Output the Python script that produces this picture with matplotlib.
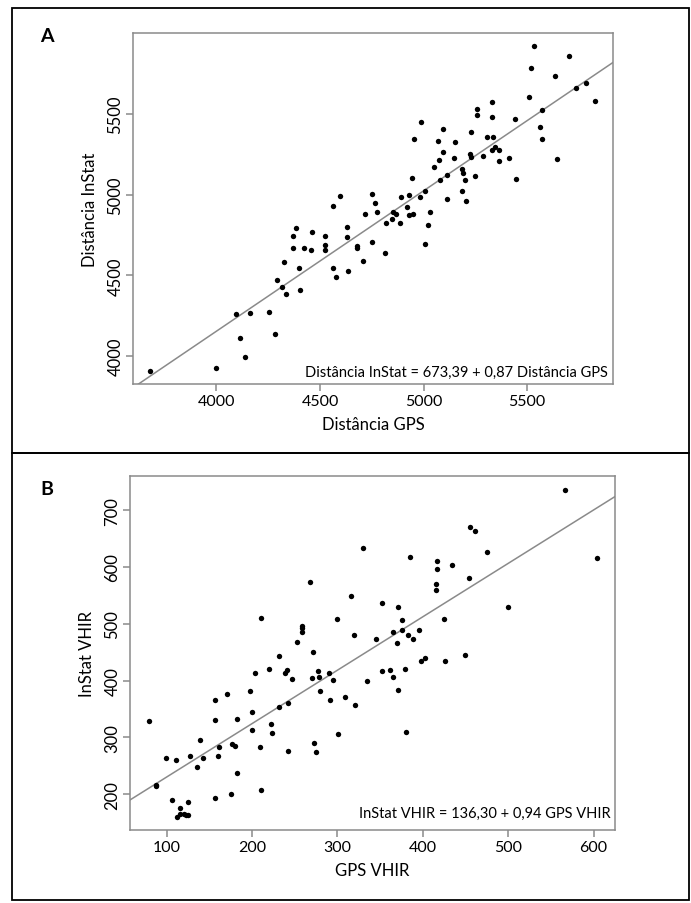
import numpy as np
import matplotlib
matplotlib.use("Agg")
import matplotlib.pyplot as plt
from matplotlib.patches import Rectangle

plt.rcParams['font.family'] = ['Lato', 'DejaVu Sans']

# Panel A: total distance, GPS vs InStat
gps_dist = [4564, 4383, 4632, 4368, 4460, 4524, 4629, 4368, 4423, 4455, 4524, 4524,
            4326, 4400, 4561, 4634, 4294, 4577, 4318, 4334, 4403, 4096, 4162, 4255,
            4114, 4282, 4139, 3999, 3679, 4597,
            5535, 5703, 5521, 5634, 5737, 5783, 5511, 5828, 5572, 5257, 5260, 5332,
            5332, 5442, 5564, 5571, 5643, 4990, 4956, 5094, 5072, 5151, 5094, 5229,
            5308, 5337, 5345, 5366, 5332, 5225, 5228, 5286, 5147, 5075, 5052, 5366,
            5411, 5188, 5192, 5112, 5247, 5200, 5078, 5445, 4943, 5006, 5186, 4983,
            4932, 4890, 5112, 4751, 4767, 5207, 4922, 4777, 4719, 4854, 4867, 4932,
            4948, 5033, 4849, 4817, 4887, 5020,
            4680, 4680, 4751, 4708, 4812, 5009]
instat_dist = [4928, 4792, 4802, 4742, 4771, 4746, 4740, 4668, 4668, 4659, 4688, 4659,
               4583, 4544, 4544, 4527, 4473, 4490, 4426, 4386, 4409, 4258, 4269, 4271,
               4114, 4134, 3992, 3924, 3907, 4992,
               5920, 5858, 5783, 5736, 5659, 5694, 5605, 5578, 5523, 5531, 5492, 5574,
               5483, 5469, 5419, 5345, 5223, 5448, 5345, 5407, 5330, 5326, 5266, 5388,
               5359, 5359, 5293, 5279, 5275, 5254, 5233, 5242, 5227, 5213, 5173, 5208,
               5227, 5159, 5136, 5124, 5115, 5091, 5091, 5097, 5101, 5022, 5022, 4987,
               4998, 4983, 4973, 5004, 4950, 4958, 4921, 4894, 4882, 4890, 4880, 4872,
               4880, 4894, 4849, 4826, 4822, 4810,
               4684, 4671, 4704, 4586, 4638, 4692]
coef_dist = (673.39, 0.87)

# Panel B: high intensity running distance (VHIR)
gps_vhir = [268, 210, 259, 258, 258, 253, 271, 231,
            203, 220, 238, 241, 247, 270, 277, 278, 279, 198, 156, 157, 171, 200,
            182, 242, 231, 79, 139, 143, 136, 127, 111, 99, 88, 87, 106, 116, 112,
            116, 120, 123, 125, 125, 156, 175, 161, 160, 177, 180, 182, 200, 222,
            223, 209, 210, 272, 275, 242,
            566, 604, 455, 461, 475, 330, 385, 416, 416, 434, 415, 415, 454, 316,
            352, 371, 299, 375, 425, 500, 319, 365, 375, 382, 388, 395, 345, 370,
            402, 449,
            398, 426, 290, 295, 352, 361, 365, 379, 335, 371, 291, 309, 321, 301, 380]
instat_vhir = [574, 510, 496, 492, 486, 468, 451, 444,
               414, 420, 414, 418, 403, 404, 417, 407, 382, 382, 366, 330, 377, 345,
               332, 361, 353, 329, 295, 263, 248, 267, 261, 263, 216, 214, 190, 175,
               160, 165, 166, 164, 163, 187, 194, 201, 283, 268, 289, 284, 237, 313,
               323, 308, 283, 207, 290, 275, 276,
               736, 616, 670, 664, 626, 634, 618, 611, 596, 604, 570, 559, 580, 549,
               537, 529, 508, 507, 508, 529, 481, 486, 489, 481, 473, 489, 473, 466,
               439, 445,
               435, 435, 414, 401, 417, 418, 407, 421, 399, 383, 366, 371, 357, 306, 310]
coef_vhir = (136.30, 0.94)

W, H = 691, 904
fig = plt.figure(figsize=(W / 100, H / 100), dpi=100)

# panel frames
for top, bot in [(9, 454), (454, 901)]:
    fig.patches.append(Rectangle((12 / W, 1 - bot / H), 677 / W, (bot - top) / H,
                                 transform=fig.transFigure, fill=False,
                                 edgecolor='black', linewidth=1.3))

def panel(rect, x, y, coef, xlim, ylim, xticks, yticks, xlabel, ylabel, eq, eq_y, letter, letter_pos):
    l, r, t, b = rect
    ax = fig.add_axes([l / W, 1 - b / H, (r - l) / W, (b - t) / H])
    ax.scatter(x, y, s=15, color='black', zorder=3, linewidths=0)
    ax.axline((0, coef[0]), slope=coef[1], color='#8a8a8a', linewidth=1.1, zorder=2)
    ax.set_xlim(xlim)
    ax.set_ylim(ylim)
    ax.set_xticks(xticks)
    ax.set_yticks(yticks)
    for s in ax.spines.values():
        s.set_color('#8a8a8a')
        s.set_linewidth(1.1)
    ax.tick_params(color='#8a8a8a', length=5, width=1.1, labelsize=11.5)
    ax.tick_params(axis='y', labelrotation=90, pad=2, labelsize=12)
    ax.tick_params(axis='x', pad=2)
    for lab in ax.get_yticklabels():
        lab.set_va('center')
    ax.set_xlabel(xlabel, fontsize=12, labelpad=6)
    ax.set_ylabel(ylabel, fontsize=12, labelpad=7)
    ax.text(0.99, eq_y, eq, transform=ax.transAxes, ha='right', va='baseline', fontsize=10.5)
    fig.text(letter_pos[0] / W, 1 - letter_pos[1] / H, letter, fontsize=14,
             fontweight='bold', ha='center', va='center')
    return ax

panel((133, 613, 34, 385), gps_dist, instat_dist, coef_dist, (3597, 5915), (3826, 6002),
      [4000, 4500, 5000, 5500], [4000, 4500, 5000, 5500],
      'Distância GPS', 'Distância InStat',
      'Distância InStat = 673,39 + 0,87 Distância GPS', 0.023, 'A', (47, 37))

panel((130, 615, 477, 831), gps_vhir, instat_vhir, coef_vhir, (57, 625), (137, 760),
      [100, 200, 300, 400, 500, 600], [200, 300, 400, 500, 600, 700],
      'GPS VHIR', 'InStat VHIR',
      'InStat VHIR = 136,30 + 0,94 GPS VHIR', 0.037, 'B', (47, 490))

fig.savefig('out.png', dpi=100)
